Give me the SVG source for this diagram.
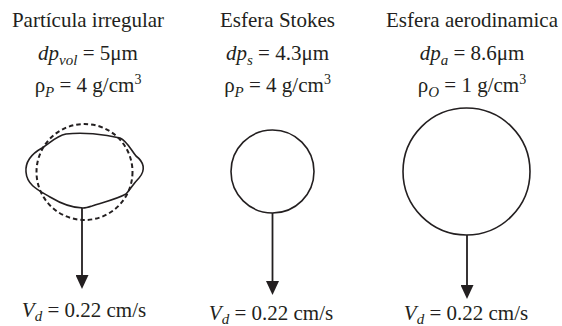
<svg xmlns="http://www.w3.org/2000/svg" width="562" height="326" viewBox="0 0 562 326">
<style>
text{font-family:"Liberation Serif","Times New Roman",serif;font-size:21px;fill:#231f20;text-anchor:middle}
.it{font-style:italic}
.sb{font-size:15px;font-style:italic}
.sp{font-size:14px}
.shape{fill:none;stroke:#231f20;stroke-width:1.6}
.dash{fill:none;stroke:#231f20;stroke-width:2;stroke-dasharray:4.5 3}
.conn{stroke:#231f20;stroke-width:1.8;fill:none}
</style>
<defs>
<marker id="ah" markerUnits="userSpaceOnUse" markerWidth="14" markerHeight="13" viewBox="0 -6.5 14 13" refX="0" refY="0" orient="auto">
<path d="M0,-6.5 L14,0 L0,6.5 z" fill="#231f20"/>
</marker>
</defs>
<g id="irregular">
<text x="88" y="27">Partícula irregular</text>
<text x="88" y="60"><tspan class="it">dp</tspan><tspan class="sb" dy="5">vol</tspan><tspan dy="-5"> = 5μm</tspan></text>
<text x="88" y="92">ρ<tspan class="sb" dy="5">P</tspan><tspan dy="-5"> = 4 g/cm</tspan><tspan class="sp" dy="-8">3</tspan></text>
<path class="shape" d="M83 208 C73 208 60 203 50 197 C40 191 27 186 26 172 C25 160 33 153 42 148 C50 143 56 136 66 134 C82 132 104 134 120 138 C127 141 131 150 136 156 C144 162 146 170 139 178 C133 184 130 190 126 194 C115 200 100 203 92 206 C89 207 86 208 83 208 Z"/>
<circle class="dash" cx="84.5" cy="172" r="48"/>
</g>
<g id="stokes">
<text x="277.5" y="27">Esfera Stokes</text>
<text x="277.5" y="60"><tspan class="it">dp</tspan><tspan class="sb" dy="5">s</tspan><tspan dy="-5"> = 4.3μm</tspan></text>
<text x="277.5" y="92">ρ<tspan class="sb" dy="5">P</tspan><tspan dy="-5"> = 4 g/cm</tspan><tspan class="sp" dy="-8">3</tspan></text>
<circle class="shape" cx="272.5" cy="171.5" r="41.5"/>
</g>
<g id="aerodinamica">
<text x="472" y="27">Esfera aerodinamica</text>
<text x="472" y="60"><tspan class="it">dp</tspan><tspan class="sb" dy="5">a</tspan><tspan dy="-5"> = 8.6μm</tspan></text>
<text x="472" y="92">ρ<tspan class="sb" dy="5">O</tspan><tspan dy="-5"> = 1 g/cm</tspan><tspan class="sp" dy="-8">3</tspan></text>
<circle class="shape" cx="466.5" cy="171.5" r="63.5"/>
</g>
<g id="vd1"><text x="84" y="317"><tspan class="it">V</tspan><tspan class="sb" dy="4">d</tspan><tspan dy="-4"> = 0.22 cm/s</tspan></text></g>
<g id="vd2"><text x="271" y="319.5"><tspan class="it">V</tspan><tspan class="sb" dy="4">d</tspan><tspan dy="-4"> = 0.22 cm/s</tspan></text></g>
<g id="vd3"><text x="466" y="319.5"><tspan class="it">V</tspan><tspan class="sb" dy="4">d</tspan><tspan dy="-4"> = 0.22 cm/s</tspan></text></g>
<g id="connectors">
<line class="conn" x1="82" y1="208" x2="82" y2="275" marker-end="url(#ah)"/>
<line class="conn" x1="272.5" y1="213" x2="272.5" y2="281" marker-end="url(#ah)"/>
<line class="conn" x1="467" y1="235" x2="467" y2="285" marker-end="url(#ah)"/>
</g>
</svg>
